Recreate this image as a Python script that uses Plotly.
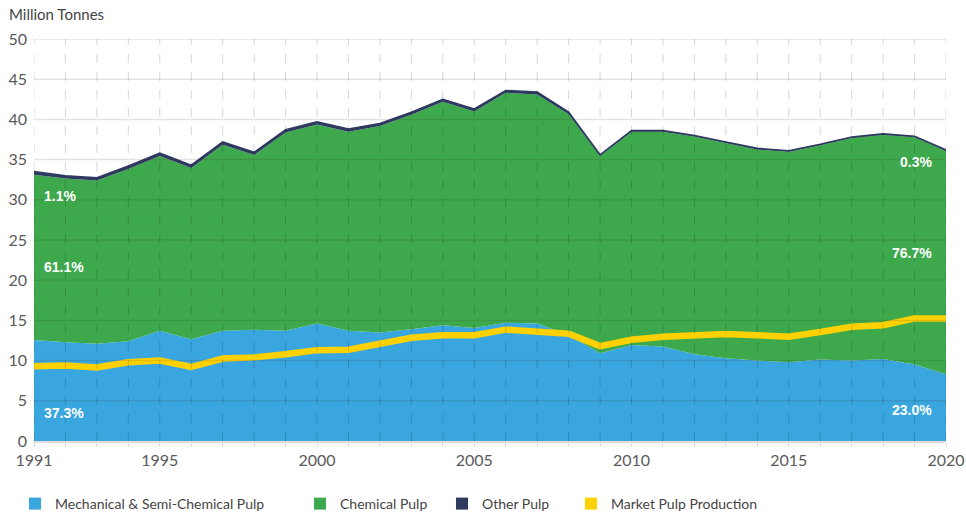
import plotly.graph_objects as go

# Data (million tonnes)
years = list(range(1991, 2021))
mechanical = [12.55, 12.27, 12.1, 12.4, 13.7, 12.65, 13.7, 13.85, 13.7, 14.6,
              13.7, 13.5, 13.9, 14.4, 14.05, 14.7, 14.6, 13.15, 10.9, 11.95,
              11.75, 10.8, 10.3, 10.0, 9.8, 10.15, 10.0, 10.2, 9.5, 8.3]
chemical = [20.58, 20.37, 20.29, 21.44, 21.75, 21.3, 23.16, 21.71, 24.66, 24.77,
            24.77, 25.67, 26.68, 27.78, 26.93, 28.6, 28.5, 27.5, 24.55, 26.5,
            26.7, 27.06, 26.77, 26.27, 26.18, 26.63, 27.68, 27.88, 28.29, 27.79]
other = [0.37, 0.36, 0.36, 0.36, 0.35, 0.35, 0.34, 0.34, 0.34, 0.33,
         0.33, 0.33, 0.32, 0.32, 0.32, 0.3, 0.3, 0.25, 0.15, 0.15,
         0.15, 0.14, 0.13, 0.13, 0.12, 0.12, 0.12, 0.12, 0.11, 0.11]
market = [9.3, 9.4, 9.15, 9.8, 10.0, 9.2, 10.25, 10.4, 10.8, 11.3,
          11.35, 12.15, 12.85, 13.15, 13.15, 13.85, 13.7, 13.35, 11.8, 12.6,
          12.97, 13.15, 13.3, 13.15, 12.97, 13.55, 14.2, 14.4, 15.25, 15.25]

y_ticks = [0, 5, 10, 15, 20, 25, 30, 35, 40, 45, 50]
x_labels = {1991: "1991", 1995: "1995", 2000: "2000", 2005: "2005", 2010: "2010", 2015: "2015", 2020: "2020"}

share_1991 = ["1.1%", "61.1%", "37.3%"]
share_2020 = ["0.3%", "76.7%", "23.0%"]

names = ["Mechanical & Semi-Chemical Pulp", "Chemical Pulp", "Other Pulp", "Market Pulp Production"]
colors = ["#39a6df", "#3da94c", "#2e3a5f", "#ffd100"]

W, H = 966, 518
font_main = dict(family="Lato, Arial", size=16, color="#5a5a5a")

fig = go.Figure()

fig.add_trace(go.Scatter(x=years, y=mechanical, stackgroup="pulp", mode="lines",
                         line=dict(width=0, color=colors[0]), fillcolor=colors[0],
                         showlegend=False, name=names[0]))
fig.add_trace(go.Scatter(x=years, y=chemical, stackgroup="pulp", mode="lines",
                         line=dict(width=0, color=colors[1]), fillcolor=colors[1],
                         showlegend=False, name=names[1]))
fig.add_trace(go.Scatter(x=years, y=other, stackgroup="pulp", mode="lines",
                         line=dict(width=1.6, color=colors[2]), fillcolor=colors[2],
                         showlegend=False, name=names[2]))
fig.add_trace(go.Scatter(x=years, y=market, mode="lines",
                         line=dict(width=6.5, color=colors[3]),
                         showlegend=False, name=names[3]))

# legend-only square swatches, one legend each so spacing follows the reference
legend_px = [15, 300, 442, 571]
for i, (nm, col) in enumerate(zip(names, colors)):
    key = "legend" if i == 0 else f"legend{i + 1}"
    fig.add_trace(go.Scatter(x=[None], y=[None], mode="markers", name=nm,
                             marker=dict(symbol="square", size=12, color=col),
                             legend=key, showlegend=True))
    fig.update_layout({key: dict(xref="container", yref="container",
                                 x=legend_px[i] / W, y=1 - 504 / H,
                                 xanchor="left", yanchor="middle",
                                 orientation="h", itemwidth=30, bgcolor="rgba(0,0,0,0)",
                                 font=dict(family="Lato, Arial", size=14, color="#444"))})

# gridlines drawn over the areas
for v in y_ticks[1:]:
    fig.add_shape(type="line", xref="paper", x0=0, x1=1, yref="y", y0=v, y1=v,
                  line=dict(color="rgba(60,40,30,0.13)", width=1.5), layer="above")
for yr in years:
    fig.add_shape(type="line", xref="x", x0=yr, x1=yr, yref="paper", y0=0, y1=1,
                  line=dict(color="rgba(0,0,0,0.16)", width=1, dash="dash"), layer="above")

ann_font = dict(family="Liberation Sans, Arial", size=14, color="white", weight="bold")
for txt, yv in zip(share_1991, [30.5, 21.6, 3.5]):
    fig.add_annotation(x=years[0] + 0.25, y=yv, text=txt, showarrow=False,
                       xanchor="left", yanchor="middle", font=ann_font)
for txt, yv in zip(share_2020, [34.7, 23.4, 3.9]):
    fig.add_annotation(x=years[-1] - 0.38, y=yv, text=txt, showarrow=False,
                       xanchor="right", yanchor="middle", font=ann_font)

fig.add_annotation(text="Million Tonnes", xref="paper", yref="paper",
                   x=-27 / 912, y=1 + 25 / 402,
                   xanchor="left", yanchor="middle", showarrow=False,
                   font=dict(family="Lato, Arial", size=15, color="#444"))

fig.update_layout(
    width=W, height=H,
    margin=dict(l=34, r=20, t=39, b=77, autoexpand=False),
    plot_bgcolor="white", paper_bgcolor="white",
    font=font_main,
    hovermode="x unified",
)
fig.update_xaxes(range=[years[0], years[-1]], showgrid=False, zeroline=False,
                 tickvals=years, ticktext=[x_labels.get(y, "") for y in years],
                 ticks="outside", ticklen=4, tickcolor="#dddddd",
                 showline=True, linecolor="#dddddd", linewidth=1.5,
                 tickfont=font_main, automargin=False)
fig.update_yaxes(range=[0, 50], tickvals=y_ticks, showgrid=False, zeroline=False,
                 tickfont=font_main, ticklabelstandoff=6, automargin=False)

fig.write_html("out.html", config={"displayModeBar": False},
               post_script="document.body.style.margin='0';document.body.style.padding='0';")
